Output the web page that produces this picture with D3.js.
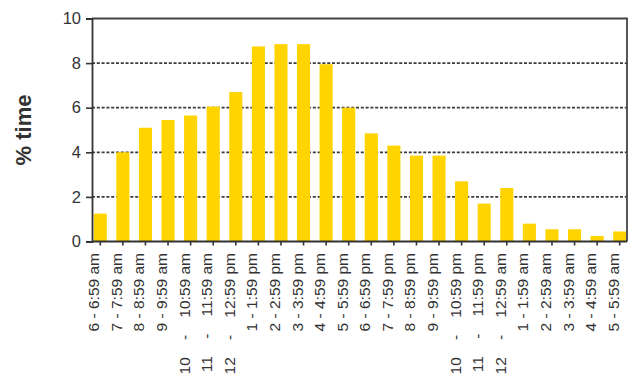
<!DOCTYPE html>
<html>
<head>
<meta charset="utf-8">
<script src="https://cdn.jsdelivr.net/npm/d3@7"></script>
<style>
  html, body { margin: 0; padding: 0; background: #fff; }
  svg { display: block; font-family: "Liberation Sans", Arial, sans-serif; }
</style>
</head>
<body>
<svg id="chart" width="631" height="385"></svg>
<script>
// Hourly time slots, starting at 6 am
const categories = [
  "6 - 6:59 am", "7 - 7:59 am", "8 - 8:59 am", "9 - 9:59 am",
  "10    -    10:59 am", "11    -    11:59 am", "12    -    12:59 pm",
  "1 - 1:59 pm", "2 - 2:59 pm", "3 - 3:59 pm", "4 - 4:59 pm",
  "5 - 5:59 pm", "6 - 6:59 pm", "7 - 7:59 pm", "8 - 8:59 pm",
  "9 - 9:59 pm", "10    -    10:59 pm", "11    -    11:59 pm",
  "12    -    12:59 am", "1 - 1:59 am", "2 - 2:59 am", "3 - 3:59 am",
  "4 - 4:59 am", "5 - 5:59 am"
];

// Share of time spent in each slot (%)
const percentTime = [
  1.25, 4.0, 5.1, 5.45, 5.65, 6.05, 6.7, 8.75, 8.85, 8.85, 7.95, 6.0,
  4.85, 4.3, 3.85, 3.85, 2.7, 1.7, 2.4, 0.8, 0.55, 0.55, 0.25, 0.45
];

const yTicks = [0, 2, 4, 6, 8, 10];
const yTitle = "% time";

const svg = d3.select("#chart");
const plot = { left: 92, right: 627, top: 18.5, bottom: 241.5 };

const x = d3.scaleBand()
  .domain(categories)
  .range([89, 631])
  .paddingInner(0.42)
  .paddingOuter(0.21);

const y = d3.scaleLinear()
  .domain([0, 10])
  .range([plot.bottom, plot.top]);

const ink = "#333";

// dashed horizontal gridlines
svg.append("g")
  .selectAll("line")
  .data(yTicks.filter(d => d > 0 && d < 10))
  .join("line")
  .attr("x1", plot.left).attr("x2", plot.right)
  .attr("y1", d => y(d)).attr("y2", d => y(d))
  .attr("stroke", "#3a3a3a")
  .attr("stroke-width", 1.8)
  .attr("stroke-dasharray", "3,1.8");

// bars
svg.append("g")
  .selectAll("rect")
  .data(percentTime)
  .join("rect")
  .attr("x", (d, i) => x(categories[i]))
  .attr("width", x.bandwidth())
  .attr("y", d => y(d))
  .attr("height", d => y(0) - y(d))
  .attr("fill", "#FFD400");

// plot frame: top and right edges
svg.append("path")
  .attr("d", `M${plot.left},${plot.top}H${plot.right}V${plot.bottom}`)
  .attr("fill", "none")
  .attr("stroke", "#444")
  .attr("stroke-width", 1.8);

// y axis
const yAxis = svg.append("g")
  .attr("transform", `translate(${plot.left},0)`)
  .call(d3.axisLeft(y).tickValues(yTicks).tickSize(6).tickPadding(5));
yAxis.select(".domain").attr("stroke", ink).attr("stroke-width", 1.8);
yAxis.selectAll(".tick line").attr("stroke", ink).attr("stroke-width", 1.6);
yAxis.selectAll(".tick text")
  .attr("fill", ink)
  .style("font-size", "16.5px");

// x axis
const xAxis = svg.append("g")
  .attr("transform", `translate(0,${plot.bottom})`)
  .call(d3.axisBottom(x).tickSize(4).tickSizeOuter(0));
xAxis.select(".domain").remove();
xAxis.selectAll(".tick line").attr("stroke", ink).attr("stroke-width", 1.6);
xAxis.selectAll(".tick text")
  .attr("fill", ink)
  .style("font-size", "15.5px")
  .style("white-space", "pre")
  .attr("text-anchor", "end")
  .attr("transform", "rotate(-90)")
  .attr("x", -11.5)
  .attr("y", -1)
  .attr("dy", 0);

svg.append("line")
  .attr("x1", plot.left).attr("x2", plot.right)
  .attr("y1", plot.bottom).attr("y2", plot.bottom)
  .attr("stroke", ink)
  .attr("stroke-width", 1.8);

// y axis title
svg.append("text")
  .attr("transform", `translate(23,130) rotate(-90)`)
  .attr("text-anchor", "middle")
  .attr("dy", "0.35em")
  .attr("fill", ink)
  .style("font-size", "22px")
  .style("font-weight", "bold")
  .text(yTitle);
</script>
</body>
</html>
